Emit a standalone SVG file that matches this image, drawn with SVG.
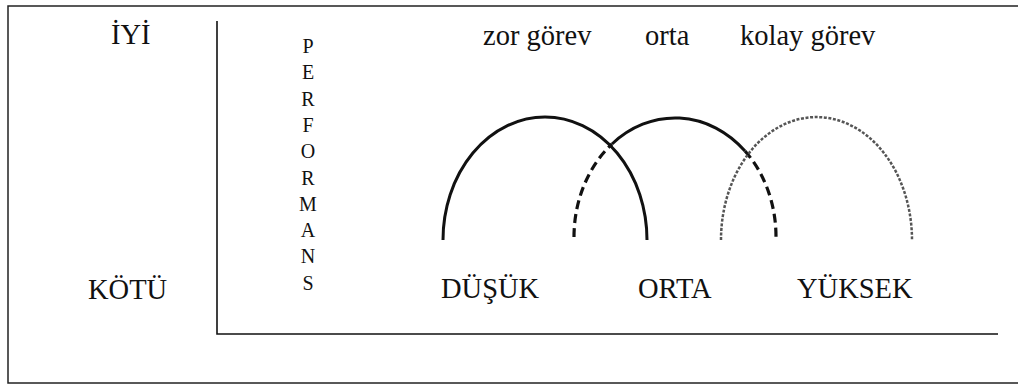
<svg xmlns="http://www.w3.org/2000/svg" width="1018" height="385" viewBox="0 0 1018 385">
<style>
.lbl{font-size:28.5px}
.v{font-size:20px;text-anchor:middle}
.frame{fill:none;stroke:#222;stroke-width:1.5}
.axis{fill:none;stroke:#111;stroke-width:1.6}
.solid{fill:none;stroke:#111;stroke-width:3}
.dash{fill:none;stroke:#111;stroke-width:3.2;stroke-dasharray:9 5}
.fine{fill:none;stroke:#555;stroke-width:2.5;stroke-dasharray:3 1.6}
</style>
<rect width="1018" height="385" fill="#fff"/>
<rect class="frame" x="8" y="6" width="1030" height="377"/>
<g id="axes">
<path class="axis" d="M217,21 V334 H998"/>
</g>
<g font-family="'Liberation Serif', 'Times New Roman', serif" fill="#111">
<g id="labels-y">
<text class="lbl" x="111" y="44">İYİ</text>
<text class="lbl" x="88" y="299">KÖTÜ</text>
</g>
<g id="performans">
<text class="v" x="308" y="53">P</text>
<text class="v" x="308" y="79.3">E</text>
<text class="v" x="308" y="105.6">R</text>
<text class="v" x="308" y="131.9">F</text>
<text class="v" x="308" y="158.2">O</text>
<text class="v" x="308" y="184.5">R</text>
<text class="v" x="308" y="210.8">M</text>
<text class="v" x="308" y="237.1">A</text>
<text class="v" x="308" y="263.4">N</text>
<text class="v" x="308" y="289.7">S</text>
</g>
<g id="task-labels">
<text class="lbl" x="483" y="45">zor görev</text>
<text class="lbl" x="645" y="45">orta</text>
<text class="lbl" x="740" y="45">kolay görev</text>
</g>
<g id="level-labels">
<text class="lbl" x="441" y="298">DÜŞÜK</text>
<text class="lbl" x="638" y="298">ORTA</text>
<text class="lbl" x="797" y="298">YÜKSEK</text>
</g>
</g>
<g id="connectors">
<path id="curve-low" class="solid" d="M443,240 A102,123 0 0 1 647,240"/>
<g id="curve-mid">
<path class="dash" d="M574,237 A101,119 0 0 1 612,144"/>
<path class="solid" d="M612,144 A101,119 0 0 1 745,151"/>
<path class="dash" d="M745,151 A101,119 0 0 1 776,237"/>
</g>
<path id="curve-high" class="fine" d="M721,240 A95.5,123 0 0 1 912,240"/>
</g>
</svg>
